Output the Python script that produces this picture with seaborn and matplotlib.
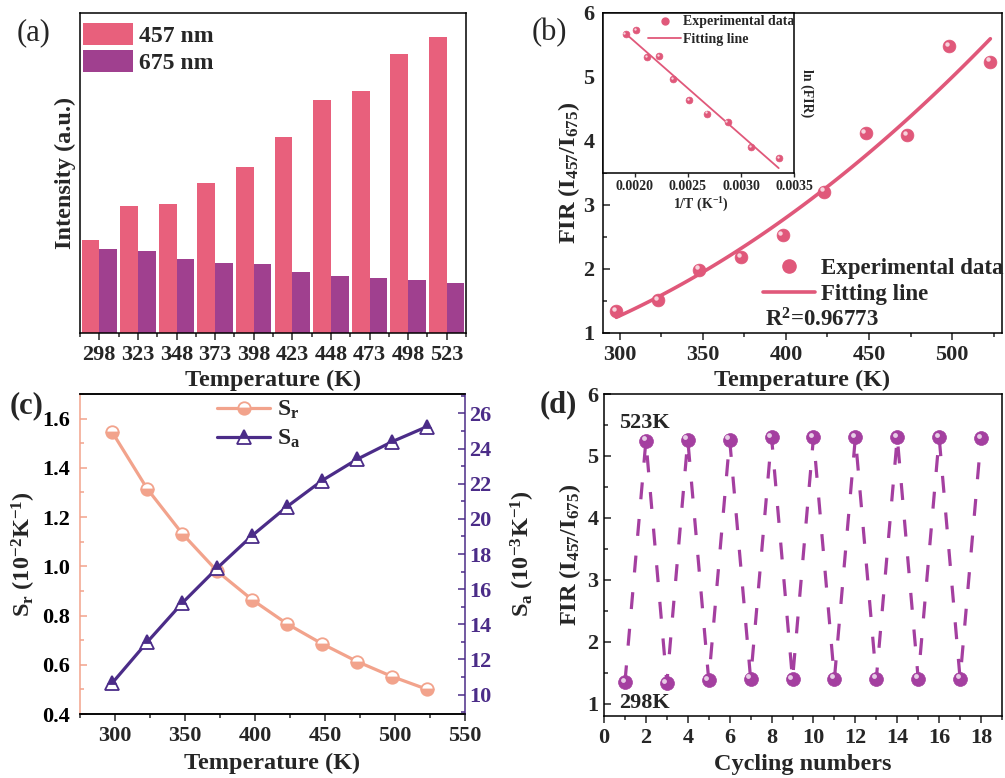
import numpy as np
import pandas as pd
import matplotlib
matplotlib.use("Agg")
import matplotlib.pyplot as plt
import seaborn as sns
from matplotlib.ticker import MultipleLocator, FixedLocator, FormatStrFormatter
from matplotlib.transforms import offset_copy
from matplotlib.lines import Line2D

# ---------------- data ----------------
temps = [298, 323, 348, 373, 398, 423, 448, 473, 498, 523]
int_457 = [280, 382, 388, 450, 497, 587, 700, 726, 838, 887]
int_675 = [252, 247, 222, 209, 206, 183, 170, 165, 159, 149]
fir = [1.34, 1.52, 1.99, 2.19, 2.53, 3.21, 4.125, 4.09, 5.48, 5.24]
sr = [1.545, 1.315, 1.133, 0.98, 0.864, 0.766, 0.685, 0.613, 0.552, 0.50]
sa = [10.66, 12.99, 15.21, 17.2, 19.05, 20.7, 22.18, 23.39, 24.39, 25.25]
cycles = list(range(1, 19))
fir_cycle = [1.345, 5.245, 1.334, 5.26, 1.378, 5.26, 1.40, 5.30, 1.39,
             5.30, 1.40, 5.30, 1.40, 5.30, 1.40, 5.30, 1.40, 5.29]
inset_xticks = [0.0020, 0.0025, 0.0030, 0.0035]
r2_label = "R$^2$=0.96773"

# ---------------- style ----------------
sns.set_theme(style="ticks")
plt.rcParams["font.family"] = ["Liberation Serif", "DejaVu Serif"]
plt.rcParams["font.weight"] = "bold"
plt.rcParams["axes.labelweight"] = "bold"
plt.rcParams["mathtext.default"] = "regular"
plt.rcParams["axes.linewidth"] = 1.1
plt.rcParams["axes.edgecolor"] = "black"

C457 = "#E8607C"
C675 = "#A0408F"
PINK = "#E0587A"
SALMON = "#F2A38C"
INDIGO = "#4B2C88"
DPURP = "#A43FA0"

W, H = 1005, 778
fig = plt.figure(figsize=(W / 100, H / 100), dpi=100)


def box(l, t, r, b):
    return [l / W, 1 - b / H, (r - l) / W, (b - t) / H]


TICK = 16
LAB = 17.5


def sphere(ax, x, y, color, s, z=4, label=None):
    sns.scatterplot(x=x, y=y, ax=ax, color=color, s=s, edgecolor=color,
                    linewidth=0.5, zorder=z, label=label, legend=False)
    d = np.sqrt(s)
    tr = offset_copy(ax.transData, fig=fig, x=-0.17 * d, y=0.17 * d, units="points")
    ax.scatter(x, y, s=s * 0.12, color="white", alpha=0.75, linewidth=0,
               transform=tr, zorder=z + 0.1)


def style_ticks(ax, xdir="out", ydir="in"):
    ax.tick_params(axis="x", which="both", direction=xdir, labelsize=TICK,
                   top=False, width=1.1)
    ax.tick_params(axis="y", which="both", direction=ydir, labelsize=TICK,
                   right=False, width=1.1)
    ax.tick_params(which="major", length=5)
    ax.tick_params(which="minor", length=3)
    for lab in ax.get_xticklabels() + ax.get_yticklabels():
        lab.set_fontweight("bold")


# ---------------- (a) ----------------
axA = fig.add_axes(box(80, 13, 466, 333))
dfA = pd.DataFrame({
    "Temperature": [str(t) for t in temps] * 2,
    "Intensity": int_457 + int_675,
    "Band": ["457 nm"] * len(temps) + ["675 nm"] * len(temps),
})
sns.barplot(data=dfA, x="Temperature", y="Intensity", hue="Band",
            palette=[C457, C675], width=0.92, gap=0, saturation=1,
            linewidth=0, ax=axA)
axA.set_xlim(-0.5, len(temps) - 0.5)
axA.set_ylim(0, 960)
axA.set_yticks([])
axA.xaxis.set_minor_locator(FixedLocator(np.arange(-0.5, len(temps), 1.0)))
style_ticks(axA)
axA.set_xlabel("Temperature (K)", fontsize=LAB)
axA.set_ylabel("Intensity (a.u.)", fontsize=LAB)
axA.xaxis.set_label_coords(0.5, -0.114)
axA.yaxis.set_label_coords(-0.01, 0.5)
h, l = axA.get_legend_handles_labels()
axA.legend(h, l, loc="upper left", bbox_to_anchor=(0.008, 0.969), frameon=False,
           handlelength=2.1, handleheight=1.05, labelspacing=0.15,
           handletextpad=0.25, borderpad=0, borderaxespad=0,
           prop={"weight": "bold", "size": 17})

# ---------------- (b) ----------------
axB = fig.add_axes(box(603, 13, 1002, 333))
T_arr = np.array(temps, dtype=float)
F_arr = np.array(fir)
coef = np.polyfit(T_arr, F_arr, 2)
T_fit = np.linspace(T_arr.min(), T_arr.max(), 120)
sns.lineplot(x=T_fit, y=np.polyval(coef, T_fit), ax=axB, color=PINK, lw=2.6,
             zorder=3, legend=False)
sphere(axB, temps, fir, PINK, 85, z=4)
axB.set_xlim(290, 530)
axB.set_ylim(1, 6)
axB.xaxis.set_major_locator(MultipleLocator(50))
axB.xaxis.set_minor_locator(MultipleLocator(25))
axB.yaxis.set_major_locator(MultipleLocator(1))
axB.yaxis.set_minor_locator(MultipleLocator(0.5))
style_ticks(axB)
axB.tick_params(axis="y", pad=6)
axB.set_xlabel("Temperature (K)", fontsize=LAB)
axB.set_ylabel("FIR (I$_{457}$/I$_{675}$)", fontsize=LAB)
axB.xaxis.set_label_coords(0.5, -0.114)
axB.yaxis.set_label_coords(-0.052, 0.5)
hB = [Line2D([], [], ls="none", marker="o", ms=9.5, color=PINK),
      Line2D([], [], color=PINK, lw=2.6)]
axB.legend(hB, ["Experimental data", "Fitting line"], loc="upper left",
           bbox_to_anchor=(0.40, 0.234), frameon=False, handlelength=2.3,
           handletextpad=0.25, labelspacing=0.2, borderpad=0, borderaxespad=0,
           prop={"weight": "bold", "size": 16.5})
axB.text(0.405, 0.04, r2_label, transform=axB.transAxes, fontsize=16.5,
         fontweight="bold", va="center", ha="left")

# inset
axI = fig.add_axes(box(603, 13, 794, 173))
inv_T = 1.0 / T_arr
ln_f = np.log(F_arr)
c1 = np.polyfit(inv_T, ln_f, 1)
xi = np.linspace(inv_T.min(), inv_T.max(), 50)
sns.lineplot(x=xi, y=np.polyval(c1, xi), ax=axI, color=PINK, lw=1.3,
             legend=False, zorder=3)
sphere(axI, inv_T, ln_f, PINK, 24, z=4)
axI.set_xlim(0.0017, 0.0035)
axI.set_ylim(0.13, 1.89)
axI.set_xticks(inset_xticks)
axI.xaxis.set_major_formatter(FormatStrFormatter("%.4f"))
axI.set_yticks([])
axI.tick_params(axis="x", direction="out", labelsize=10, length=3, width=1, pad=2)
for lab in axI.get_xticklabels():
    lab.set_fontweight("bold")
axI.set_xlabel("1/T (K$^{-1}$)", fontsize=10)
axI.xaxis.set_label_coords(0.51, -0.14)
axI.text(1.068, 0.5, "ln (FIR)", transform=axI.transAxes, rotation=270,
         va="center", ha="center", fontsize=10, fontweight="bold")
hI = [Line2D([], [], ls="none", marker="o", ms=5, color=PINK),
      Line2D([], [], color=PINK, lw=1.3)]
axI.legend(hI, ["Experimental data", "Fitting line"], loc="upper right",
           bbox_to_anchor=(1.0, 0.985), frameon=False, handlelength=2.4,
           handletextpad=0.1, labelspacing=0.3, borderpad=0, borderaxespad=0,
           prop={"weight": "bold", "size": 10})

# ---------------- (c) ----------------
axC = fig.add_axes(box(80, 394, 465, 714))
axC2 = axC.twinx()
sns.lineplot(x=temps, y=sr, ax=axC, color=SALMON, lw=2.3, marker="o", ms=9,
             fillstyle="bottom", markerfacecoloralt="white", mec=SALMON,
             mew=1.3, legend=False, zorder=3)
sns.lineplot(x=temps, y=sa, ax=axC2, color=INDIGO, lw=2.3, marker="^", ms=10,
             fillstyle="top", markerfacecoloralt="white", mec=INDIGO,
             mew=1.3, legend=False, zorder=3)
axC.set_xlim(275, 550)
axC.set_ylim(0.4, 1.7)
axC2.set_ylim(8.9, 27.1)
axC.xaxis.set_major_locator(MultipleLocator(50))
axC.xaxis.set_minor_locator(MultipleLocator(25))
axC.yaxis.set_major_locator(MultipleLocator(0.2))
axC.yaxis.set_minor_locator(MultipleLocator(0.1))
axC2.yaxis.set_major_locator(MultipleLocator(2))
axC2.yaxis.set_minor_locator(MultipleLocator(1))
style_ticks(axC)
axC.tick_params(axis="y", which="both", colors=SALMON, labelcolor="black", pad=7)
axC2.tick_params(axis="y", which="both", direction="in", colors=INDIGO,
                 labelcolor=INDIGO, labelsize=TICK, width=1.1, pad=3)
axC2.tick_params(which="major", length=5)
axC2.tick_params(which="minor", length=3)
for lab in axC2.get_yticklabels():
    lab.set_fontweight("bold")
axC.spines["left"].set_color(SALMON)
axC.spines["right"].set_visible(False)
axC2.spines["left"].set_visible(False)
axC2.spines["right"].set_color(INDIGO)
axC.set_xlabel("Temperature (K)", fontsize=LAB)
axC.set_ylabel("S$_r$ (10$^{-2}$K$^{-1}$)", fontsize=LAB)
axC2.set_ylabel("S$_a$ (10$^{-3}$K$^{-1}$)", fontsize=LAB)
axC.xaxis.set_label_coords(0.5, -0.122)
axC.yaxis.set_label_coords(-0.11, 0.5)
axC2.yaxis.set_label_coords(1.115, 0.5)
hC = [Line2D([], [], color=SALMON, lw=2.3, marker="o", ms=9, fillstyle="bottom",
             markerfacecoloralt="white", mec=SALMON, mew=1.3),
      Line2D([], [], color=INDIGO, lw=2.3, marker="^", ms=10, fillstyle="top",
             markerfacecoloralt="white", mec=INDIGO, mew=1.3)]
axC2.legend(hC, ["S$_r$", "S$_a$"], loc="upper left", bbox_to_anchor=(0.356, 0.985),
            frameon=False, handlelength=2.25, handletextpad=0.3, labelspacing=0.3,
            borderpad=0, borderaxespad=0, prop={"weight": "bold", "size": 17})

# ---------------- (d) ----------------
axD = fig.add_axes(box(604, 394, 1002, 716))
sns.lineplot(x=cycles, y=fir_cycle, ax=axD, color=DPURP, lw=2.3,
             ls=(0, (5.3, 6.2)), legend=False, zorder=3)
sphere(axD, cycles, fir_cycle, DPURP, 100, z=4)
axD.set_xlim(0, 19)
axD.set_ylim(0.8, 6)
axD.xaxis.set_major_locator(MultipleLocator(2))
axD.xaxis.set_minor_locator(MultipleLocator(1))
axD.yaxis.set_major_locator(MultipleLocator(1))
axD.yaxis.set_minor_locator(MultipleLocator(0.5))
style_ticks(axD)
axD.tick_params(axis="y", pad=4)
axD.set_xlabel("Cycling numbers", fontsize=LAB)
axD.set_ylabel("FIR (I$_{457}$/I$_{675}$)", fontsize=LAB)
axD.xaxis.set_label_coords(0.5, -0.119)
axD.yaxis.set_label_coords(-0.053, 0.5)
axD.text(0.038, 0.91, "523K", transform=axD.transAxes, fontsize=16,
         fontweight="bold", va="center", ha="left")
axD.text(0.038, 0.04, "298K", transform=axD.transAxes, fontsize=16,
         fontweight="bold", va="center", ha="left")

# ---------------- panel labels ----------------
fig.text(17 / W, 1 - 33 / H, "(a)", fontsize=22, fontweight="normal", va="center")
fig.text(532 / W, 1 - 33 / H, "(b)", fontsize=22, fontweight="normal", va="center")
fig.text(10 / W, 1 - 406 / H, "(c)", fontsize=22, fontweight="bold", va="center")
fig.text(540 / W, 1 - 405 / H, "(d)", fontsize=22, fontweight="bold", va="center")

fig.savefig("out.png", dpi=100)
